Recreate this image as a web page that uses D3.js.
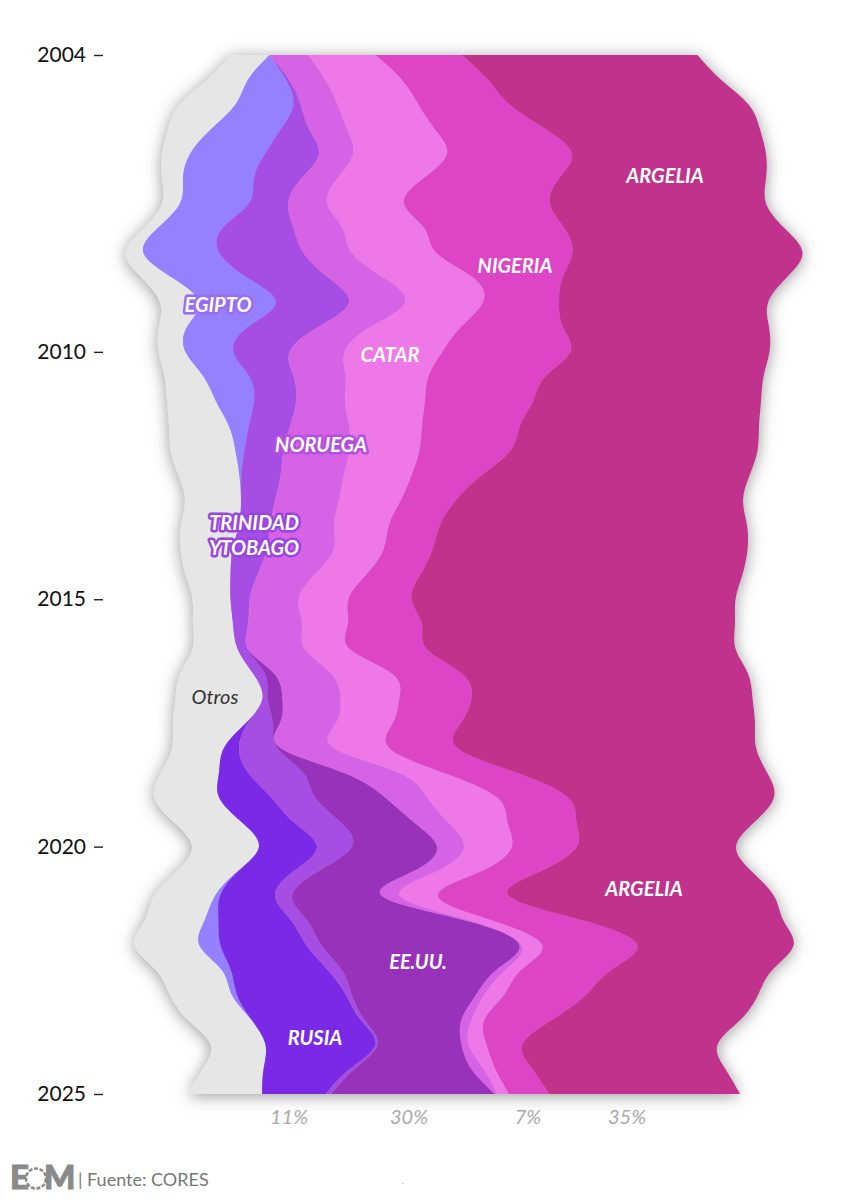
<!DOCTYPE html>
<html>
<head>
<meta charset="utf-8">
<script src="https://cdnjs.cloudflare.com/ajax/libs/d3/7.8.5/d3.min.js"></script>
<style>
html,body{margin:0;padding:0;background:#fff;}
svg{display:block;}
text{font-family:Lato,"Open Sans",sans-serif;}
</style>
</head>
<body>
<svg id="chart" width="854" height="1200"></svg>
<script>
// half-year steps, 2004 to 2025
var dates=d3.range(2004,2025.25,0.5);
var yearTicks=[2004,2010,2015,2020,2025];

var otros   =[39,41,56,43,28,21,18,14,18,31,39,28,27,39,49,60,65,61,56,58,52,45,38,40,45,73,87,73,52,58,65,68,67,61,61,60,65,66,62,64,55,61,74];
var egipto  =[0,38,58,70,75,71,69,65,76,75,77,61,48,46,38,20,9,2,0,0,0,0,0,0,0,0,0,0,0,0,0,0,0,1,5,14,21,9,5,0,0,0,0];
var rusia   =[0,0,0,0,0,0,0,0,0,0,0,0,0,0,0,0,0,0,0,0,0,0,0,0,0,0,0,2,15,29,52,52,58,55,55,73,86,97,109,109,110,86,64];
var trinidad=[0,3,7,28,54,47,39,71,84,81,73,70,56,44,42,41,39,39,34,31,34,27,19,15,10,12,5,25,38,55,44,47,35,25,17,16,15,14,6,4,2,5,5];
var eeuu    =[0,0,0,0,0,0,0,0,0,0,0,0,0,0,0,0,0,0,0,0,0,0,0,0,0,9,15,7,3,40,70,73,85,95,90,159,198,154,124,97,84,117,164];
var noruega =[39,36,37,38,34,36,39,49,48,55,56,52,55,52,49,59,66,63,64,64,67,57,49,54,57,57,58,56,53,55,42,34,27,23,18,4,2,9,8,10,7,12,2];
var catar   =[67,77,81,88,94,86,77,82,85,90,78,91,98,83,80,73,70,68,62,55,50,52,50,46,45,61,59,57,56,45,70,60,48,45,38,23,21,16,20,13,18,12,12];
var nigeria =[86,86,91,111,125,136,146,140,136,89,76,102,128,117,108,98,91,70,55,51,49,54,63,74,77,70,72,68,68,73,71,69,65,59,71,91,95,90,82,68,36,37,40];
var argelia =[236,233,239,214,194,207,216,220,230,224,209,206,199,218,228,239,247,268,287,307,315,322,324,313,309,286,281,294,299,251,206,178,159,211,265,199,156,161,172,188,195,193,191];

var countries=["Otros","Egipto","Rusia","Trinidad","EE.UU.","Noruega","Catar","Nigeria","Argelia"];
var countryValues=[otros,egipto,rusia,trinidad,eeuu,noruega,catar,nigeria,argelia];
var countryColors=["#e6e6e6","#9580ff","#7a2be6","#a64de3","#9933bb","#d662e6","#ee78e8","#de45c6","#c0308c"];
var shareLabels=["11%","30%","7%","35%"];

var rows=dates.map(function(d,i) {
  var r={date:d};
  countries.forEach(function(c,j) { r[c]=countryValues[j][i]; });
  return r;
});

var svg=d3.select("#chart");

var x=d3.scaleLinear().domain([-464,390]).range([0,854]);
var y=d3.scaleLinear().domain([2004,2025]).range([55,1094]);

var series=d3.stack().keys(countries).offset(d3.stackOffsetSilhouette)(rows);

var area=d3.area()
  .y(function(d) { return y(d.data.date); })
  .x0(function(d) { return x(d[0]); })
  .x1(function(d) { return x(d[1]); })
  .curve(d3.curveNatural);

// soft shadow around the whole stream
var defs=svg.append("defs");
defs.append("filter").attr("id","shadow")
  .attr("x","-10%").attr("y","-5%").attr("width","120%").attr("height","110%")
  .append("feDropShadow")
  .attr("dx",0).attr("dy",2).attr("stdDeviation",8)
  .attr("flood-color","#555").attr("flood-opacity",.6);

var stream=svg.append("g").attr("filter","url(#shadow)");
stream.selectAll("path").data(series).enter().append("path")
  .attr("d",area)
  .attr("fill",function(d,i) { return countryColors[i]; });

// year axis
var yAxis=d3.axisLeft(y).tickValues(yearTicks).tickFormat(d3.format("d")).tickSize(9).tickPadding(8);
var axisG=svg.append("g").attr("transform","translate(103,0)").call(yAxis);
axisG.select(".domain").remove();
axisG.selectAll("line").attr("stroke","#222").attr("stroke-width",1.4);
axisG.selectAll("text").attr("fill","#111").style("font-size","21px").style("font-family","Lato");

function addLabel(txt,px,py,halo,color,weight,size) {
  var t=svg.append("text").text(txt)
    .attr("x",px).attr("y",py)
    .attr("text-anchor","middle").attr("dominant-baseline","central")
    .attr("fill",color||"#fff")
    .style("font-style","italic")
    .style("font-weight",weight||700)
    .style("font-size",(size||20)+"px");
  if(halo) {
    t.attr("stroke",halo).attr("stroke-width",5).attr("stroke-linejoin","round").style("paint-order","stroke");
  }
  return t;
}

addLabel("ARGELIA",665,175);
addLabel("NIGERIA",515,265);
addLabel("EGIPTO",218,304,"#9a6cf0");
addLabel("CATAR",390,354);
addLabel("NORUEGA",321,444,"#b44fe0");
addLabel("TRINIDAD",254,522,"#9a45e0");
addLabel("Y TOBAGO",254,547,"#9a45e0").style("word-spacing","-4px");
addLabel("Otros",215,696,null,"#333",400);
addLabel("ARGELIA",644,888);
addLabel("EE.UU.",418,961);
addLabel("RUSIA",315,1037);

var shareX=[289,409,528,627];
shareLabels.forEach(function(s,i) {
  addLabel(s,shareX[i],1116,null,"#aaa",400);
});

// footer, logo letters with a dotted O
var logo=svg.append("g").attr("fill","#8a8a8a").attr("stroke","#8a8a8a").attr("stroke-width",1);
logo.append("text").text("E").attr("x",10).attr("y",1189).style("font-size","33px").style("font-weight",900);
logo.append("text").text("M").attr("x",44).attr("y",1189).style("font-size","33px").style("font-weight",900);
logo.append("circle").attr("cx",36).attr("cy",1178.5).attr("r",10)
  .attr("fill","none").attr("stroke-width",2.6).attr("stroke-dasharray","4 1.6");
svg.append("text").text("| Fuente: CORES").attr("x",78).attr("y",1186)
  .attr("fill","#777").style("font-size","18px");
svg.append("text").text(".").attr("x",402).attr("y",1184).attr("fill","#888").style("font-size","7px");
</script>
</body>
</html>
